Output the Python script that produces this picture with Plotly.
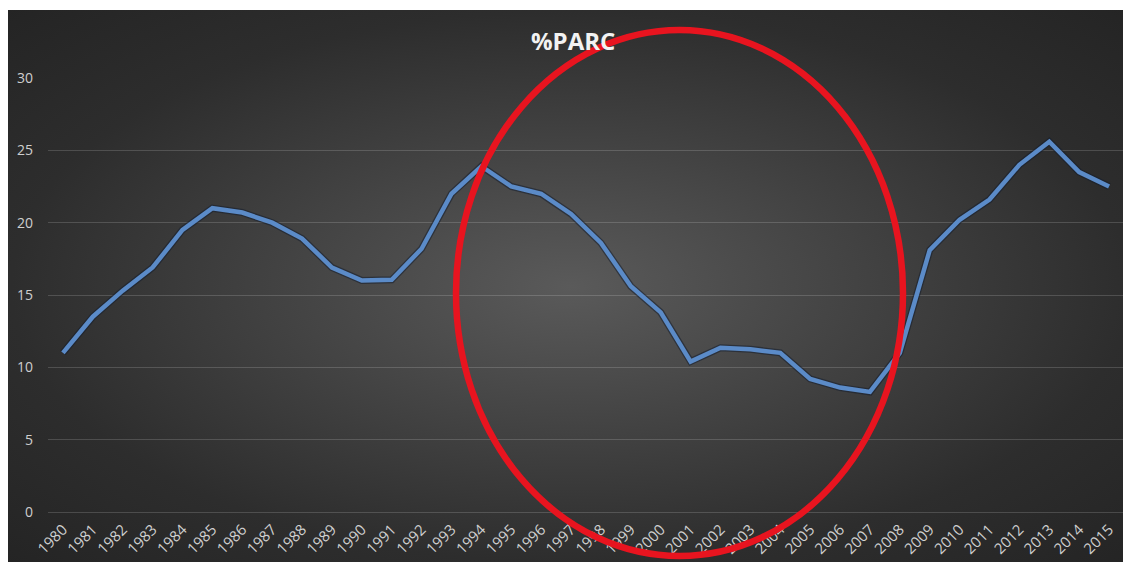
import base64
import plotly.graph_objects as go

# ---- data ----
years = [str(y) for y in range(1980, 2016)]
parc = [11.0, 13.5, 15.3, 16.9, 19.5, 21.0, 20.7, 20.0, 18.9, 16.9,
        16.0, 16.05, 18.2, 22.0, 23.9, 22.5, 22.0, 20.6, 18.6, 15.6,
        13.8, 10.4, 11.35, 11.25, 11.0, 9.2, 8.6, 8.3, 11.0, 18.1,
        20.2, 21.6, 24.0, 25.6, 23.5, 22.5]
y_ticks = [0, 5, 10, 15, 20, 25, 30]
title_text = "%PARC"

OFF = 8  # page body margin
W, H = 1123, 554
ML, MR, MT, MB = 40, 7, 70, 50
PW = W - ML - MR
PH = H - MT - MB


def px_x(s):
    return (s - OFF - ML) / PW


def px_y(s):
    return (H - MB - (s - OFF)) / PH


# radial gradient background as an SVG image
svg = (
    '<svg xmlns="http://www.w3.org/2000/svg" width="1124" height="552" '
    'viewBox="0 0 1124 552" preserveAspectRatio="none">'
    '<defs><radialGradient id="g" cx="50%" cy="50%" r="71%">'
    '<stop offset="0" stop-color="#5a5a5a"/>'
    '<stop offset="0.7" stop-color="#2d2d2d"/>'
    '<stop offset="1" stop-color="#242424"/>'
    '</radialGradient></defs>'
    '<rect width="1124" height="552" fill="url(#g)"/></svg>'
)
svg_uri = "data:image/svg+xml;base64," + base64.b64encode(svg.encode()).decode()

fig = go.Figure()

fig.add_trace(go.Scatter(
    x=years, y=parc, mode="lines",
    line=dict(color="rgba(20,30,45,0.55)", width=7),
    hoverinfo="skip", showlegend=False,
))
fig.add_trace(go.Scatter(
    x=years, y=parc, mode="lines",
    line=dict(color="#5b8bc8", width=4.5),
    showlegend=False,
))

fig.add_layout_image(dict(
    source=svg_uri, xref="paper", yref="paper",
    x=px_x(8), y=px_y(10), sizex=(W + 2) / PW, sizey=H / PH,
    sizing="stretch", xanchor="left", yanchor="top", layer="below",
))

# red hand-drawn ellipse
fig.add_shape(
    type="circle", xref="paper", yref="paper",
    x0=px_x(456), x1=px_x(903), y0=px_y(556), y1=px_y(30),
    line=dict(color="#e8141f", width=6.5), layer="above",
)

fig.add_annotation(
    text=f"<b>{title_text}</b>", xref="paper", yref="paper",
    x=px_x(573), y=px_y(40), showarrow=False,
    xanchor="center", yanchor="middle",
    font=dict(family="Open Sans, Liberation Sans, sans-serif", size=24, color="#f2f2f2"),
)

fig.update_layout(
    width=W, height=H,
    margin=dict(l=ML, r=MR, t=MT, b=MB, autoexpand=False),
    paper_bgcolor="white",
    plot_bgcolor="rgba(0,0,0,0)",
    font=dict(family="Open Sans, Liberation Sans, sans-serif", size=14, color="#d0d0d0"),
)
fig.update_xaxes(
    type="category", range=[-0.5, len(years) - 0.5], automargin=False,
    tickangle=-45, showgrid=False, zeroline=False, showline=False,
    ticks="", ticklabelstandoff=5, tickfont=dict(size=15, color="#cfcfcf"),
)
fig.update_yaxes(
    range=[0, 30], tickvals=y_ticks, showgrid=True, automargin=False,
    gridcolor="rgba(255,255,255,0.16)", gridwidth=1,
    zeroline=True, zerolinecolor="rgba(255,255,255,0.16)", zerolinewidth=1,
    showline=False, ticks="", ticklabelstandoff=14,
    tickfont=dict(size=14, color="#cfcfcf"),
)

fig.write_html("out.html")
